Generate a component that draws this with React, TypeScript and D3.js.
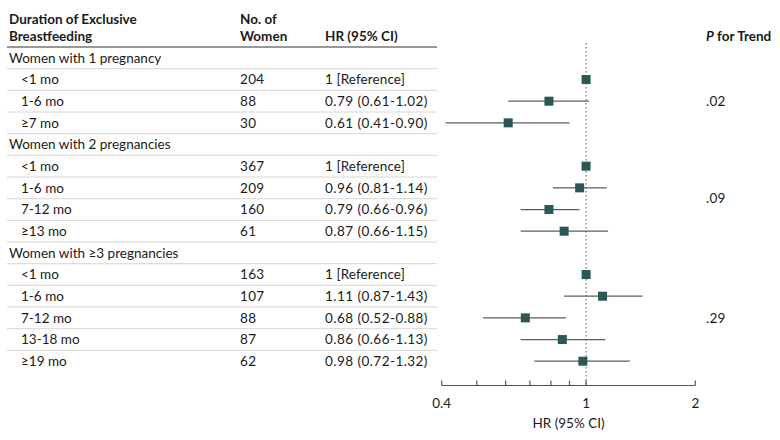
import React from "react";
import * as d3 from "d3";

const rowLabels = ["Women with 1 pregnancy", "<1 mo", "1-6 mo", "≥7 mo", "Women with 2 pregnancies", "<1 mo", "1-6 mo", "7-12 mo", "≥13 mo", "Women with ≥3 pregnancies", "<1 mo", "1-6 mo", "7-12 mo", "13-18 mo", "≥19 mo"];
const isGroup = [true, false, false, false, true, false, false, false, false, true, false, false, false, false, false];
const nWomen = ["", "204", "88", "30", "", "367", "209", "160", "61", "", "163", "107", "88", "87", "62"];
const hrText = ["", "1 [Reference]", "0.79 (0.61-1.02)", "0.61 (0.41-0.90)", "", "1 [Reference]", "0.96 (0.81-1.14)", "0.79 (0.66-0.96)", "0.87 (0.66-1.15)", "", "1 [Reference]", "1.11 (0.87-1.43)", "0.68 (0.52-0.88)", "0.86 (0.66-1.13)", "0.98 (0.72-1.32)"];
const hr = [null, 1, 0.79, 0.61, null, 1, 0.96, 0.79, 0.87, null, 1, 1.11, 0.68, 0.86, 0.98];
const lo = [null, null, 0.61, 0.41, null, null, 0.81, 0.66, 0.66, null, null, 0.87, 0.52, 0.66, 0.72];
const hi = [null, null, 1.02, 0.9, null, null, 1.14, 0.96, 1.15, null, null, 1.43, 0.88, 1.13, 1.32];
const pTrend = [".02", ".09", ".29"];
const pRows = [[1, 2, 3], [5, 6, 7, 8], [10, 11, 12, 13, 14]];
const tickValues = [0.4, 0.5, 0.6, 0.7, 0.8, 0.9, 1, 2];
const tickLabels = ["0.4", "", "", "", "", "", "1", "2"];

const W = 780, H = 440;
const FONT = "Lato, 'Open Sans', sans-serif";
const TXT = "#1a1a1a";

export default function App() {
  const tableTop = 47;
  const rowH = 21.67;
  const y = d3.scaleLinear().domain([0, rowLabels.length]).range([tableTop, tableTop + rowLabels.length * rowH]);
  const yc = (i: number) => y(i + 0.5);
  const x = d3.scaleLog().domain([0.4, 2]).range([441.7, 695.3]);
  const axisY = 385.5;
  const fs = 13.5;

  return (
    <svg width={W} height={H} style={{ position: "absolute", left: 0, top: 0, background: "#fff" }} fontFamily={FONT}>
      <rect width={W} height={H} fill="#fff" />
      {/* headers */}
      <g fontWeight="bold" fontSize={fs} fill={TXT}>
        <text x={9} y={24}>Duration of Exclusive</text>
        <text x={9} y={41}>Breastfeeding</text>
        <text x={240} y={24}>No. of</text>
        <text x={240} y={41}>Women</text>
        <text x={325} y={41}>HR (95% CI)</text>
        <text x={706} y={41}><tspan fontStyle="italic">P</tspan> for Trend</text>
      </g>
      <line x1={7} x2={437} y1={tableTop} y2={tableTop} stroke="#333" strokeWidth={1.2} />
      {/* row separators */}
      {rowLabels.slice(0, -1).map((_, i) => (
        <line key={"sep" + i} x1={7} x2={437} y1={y(i + 1)} y2={y(i + 1)} stroke="#d6d6d6" strokeWidth={1} />
      ))}
      {/* table text */}
      <g fontSize={fs} fill={TXT}>
        {rowLabels.map((lab, i) => (
          <text key={"l" + i} x={isGroup[i] ? 9 : 21} y={yc(i)} dy="0.35em">{lab}</text>
        ))}
        {nWomen.map((n, i) => (
          <text key={"n" + i} x={240} y={yc(i)} dy="0.35em" letterSpacing={0.3}>{n}</text>
        ))}
        {hrText.map((t, i) => (
          <text key={"h" + i} x={325} y={yc(i)} dy="0.35em" letterSpacing={hr[i] === 1 ? 0.1 : 0.45}>{t}</text>
        ))}
        {pTrend.map((p, g) => (
          <text key={"p" + g} x={706} y={d3.mean(pRows[g].map(yc)) as number} dy="0.35em" letterSpacing={0.3}>{p}</text>
        ))}
      </g>
      {/* reference line */}
      <line x1={x(1)} x2={x(1)} y1={43} y2={axisY} stroke="#555" strokeWidth={1} strokeDasharray="1.5,2.5" />
      {/* CIs and markers */}
      {hr.map((v, i) => {
        if (v == null) return null;
        const l = lo[i], h = hi[i];
        return (
          <g key={"m" + i}>
            {l != null && h != null && (
              <line x1={x(l)} x2={x(h)} y1={yc(i)} y2={yc(i)} stroke="#5e5e5e" strokeWidth={1.2} />
            )}
            <rect x={x(v) - 4.5} y={yc(i) - 4.5} width={9} height={9} fill="#2b5755" />
          </g>
        );
      })}
      {/* axis */}
      <line x1={x(0.4)} x2={x(2)} y1={axisY} y2={axisY} stroke="#555" strokeWidth={1.2} />
      {tickValues.map((t, k) => (
        <g key={"t" + k}>
          <line x1={x(t)} x2={x(t)} y1={axisY} y2={axisY - 5} stroke="#555" strokeWidth={1.2} />
          {tickLabels[k] && (
            <text x={x(t)} y={axisY + 22} textAnchor="middle" fontSize={fs} fill={TXT}>{tickLabels[k]}</text>
          )}
        </g>
      ))}
      <text x={(x(0.4) + x(2)) / 2} y={axisY + 42} textAnchor="middle" fontSize={fs} fill={TXT}>HR (95% CI)</text>
    </svg>
  );
}
